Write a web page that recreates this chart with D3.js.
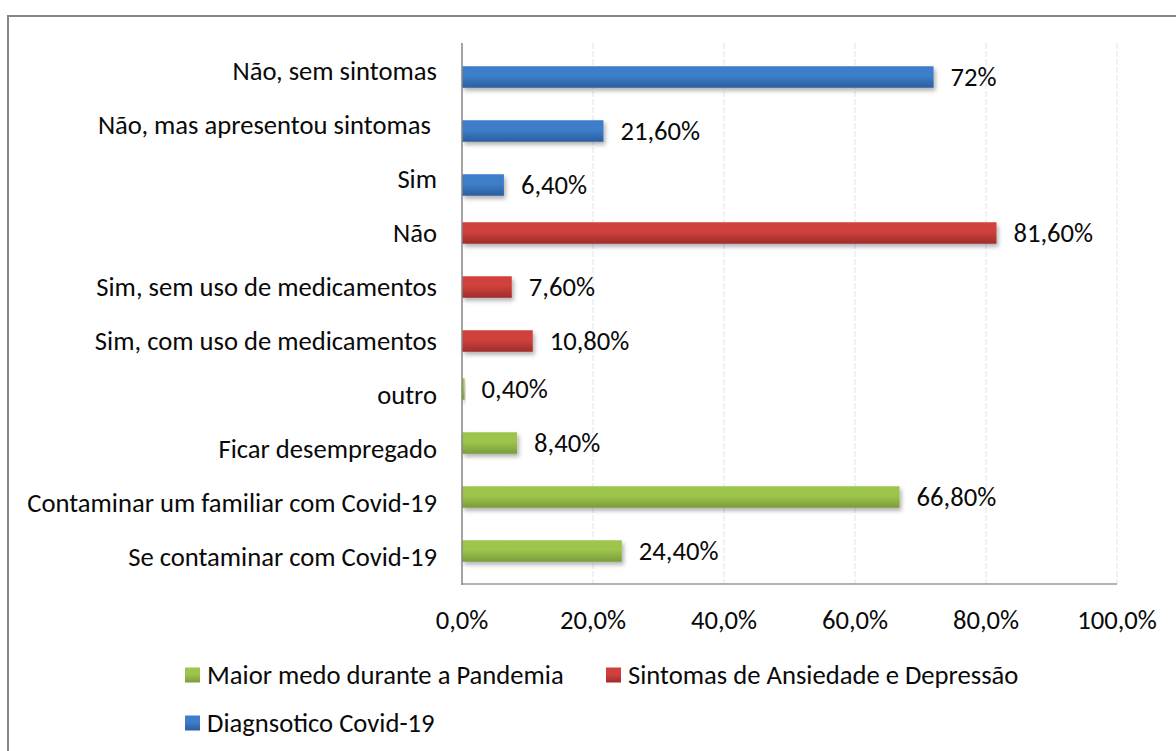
<!DOCTYPE html>
<html><head><meta charset="utf-8">
<script src="https://cdn.jsdelivr.net/npm/d3@7"></script>
<style>
html,body{margin:0;padding:0;background:#fff;}
svg text{font-family:Carlito,Calibri,Lato,sans-serif;fill:#0a0a0a;white-space:pre;}
</style></head>
<body>
<svg id="chart" width="1176" height="751"></svg>
<script>
const categories = ["Não, sem sintomas","Não, mas apresentou sintomas ","Sim","Não","Sim, sem uso de medicamentos","Sim, com uso de medicamentos","outro","Ficar desempregado","Contaminar um familiar com Covid-19","Se contaminar com Covid-19"];
const values = [72, 21.6, 6.4, 81.6, 7.6, 10.8, 0.4, 8.4, 66.8, 24.4];
const valueLabels = ["72%","21,60%","6,40%","81,60%","7,60%","10,80%","0,40%","8,40%","66,80%","24,40%"];
const seriesOf = [2,2,2,1,1,1,0,0,0,0];
const seriesNames = ["Maior medo durante a Pandemia","Sintomas de Ansiedade e Depressão","Diagnsotico Covid-19"];
const seriesColors = [["#9DC54B","#7A9C3C"],["#D0413E","#9E2C2A"],["#3D7DCA","#2C5E9E"]];
const xTicks = [0,20,40,60,80,100];
const xTickLabels = ["0,0%","20,0%","40,0%","60,0%","80,0%","100,0%"];

const svg = d3.select("#chart");
const defs = svg.append("defs");
seriesColors.forEach((c,i)=>{
  const g = defs.append("linearGradient").attr("id","g"+i).attr("x1",0).attr("y1",0).attr("x2",0).attr("y2",1);
  g.append("stop").attr("offset","0%").attr("stop-color",c[0]);
  g.append("stop").attr("offset","45%").attr("stop-color",c[0]);
  g.append("stop").attr("offset","100%").attr("stop-color",c[1]);
});
const f = defs.append("filter").attr("id","sh").attr("x","-10%").attr("y","-30%").attr("width","130%").attr("height","190%");
f.append("feDropShadow").attr("dx",2).attr("dy",3).attr("stdDeviation",2).attr("flood-color","#000").attr("flood-opacity",0.3);

// frame
svg.append("rect").attr("x",8).attr("y",16).attr("width",1300).attr("height",900)
  .attr("fill","none").attr("stroke","#868686").attr("stroke-width",2);

// font sizing: fit the longest category label to its width in the reference
const probe = svg.append("text").attr("font-size",24).text("Contaminar um familiar com Covid-19");
const fs = 24 * 410 / probe.node().getComputedTextLength();
probe.remove();

const x = d3.scaleLinear().domain([0,100]).range([462,1117]);
const y = d3.scaleBand().domain(categories).range([44,584]).padding(0);
const seriesOffset = d3.scalePoint().domain([0,1,2]).range([-6,6]);
const barH = 21.5;

// gridlines
svg.append("g").selectAll("line").data(xTicks.slice(1)).join("line")
  .attr("x1",d=>x(d)).attr("x2",d=>x(d)).attr("y1",43).attr("y2",584)
  .attr("stroke","#DCE3EF").attr("stroke-width",1).attr("stroke-dasharray","6,2");

// bars
const cy = (d,i)=> y(categories[i]) + y.bandwidth()/2 + seriesOffset(seriesOf[i]);
svg.append("g").selectAll("rect").data(values).join("rect")
  .attr("x",x(0)).attr("y",(d,i)=>cy(d,i)-barH/2)
  .attr("width",d=>x(d)-x(0)).attr("height",barH)
  .attr("fill",(d,i)=>"url(#g"+seriesOf[i]+")").attr("filter","url(#sh)");

// axes lines
svg.append("line").attr("x1",462).attr("x2",1117).attr("y1",584).attr("y2",584).attr("stroke","#9a9a9a").attr("stroke-width",1.5);
svg.append("line").attr("x1",462).attr("x2",462).attr("y1",43).attr("y2",585).attr("stroke","#868686").attr("stroke-width",1.5);

// category labels
svg.append("g").selectAll("text").data(categories).join("text")
  .attr("x",437).attr("y",d=>y(d)+y.bandwidth()/2).attr("dy","0.34em")
  .attr("text-anchor","end").attr("font-size",fs).text(d=>d);

// value labels
svg.append("g").selectAll("text").data(values).join("text")
  .attr("x",d=>x(d)+17).attr("y",(d,i)=>cy(d,i)).attr("dy","0.34em")
  .attr("font-size",fs).text((d,i)=>valueLabels[i]);

// x tick labels
svg.append("g").selectAll("text").data(xTicks).join("text")
  .attr("x",d=>x(d)).attr("y",620).attr("dy","0.34em").attr("text-anchor","middle")
  .attr("font-size",fs).text((d,i)=>xTickLabels[i]);

// legend
const legendPos = [[185,675],[606,675],[185,723]];
const lg = svg.append("g").selectAll("g").data(seriesNames).join("g")
  .attr("transform",(d,i)=>`translate(${legendPos[i][0]},${legendPos[i][1]})`);
lg.append("rect").attr("x",0).attr("y",-7.5).attr("width",15).attr("height",15).attr("fill",(d,i)=>"url(#g"+i+")");
lg.append("text").attr("x",22).attr("y",0).attr("dy","0.34em").attr("font-size",fs).text(d=>d);
</script>
</body></html>
